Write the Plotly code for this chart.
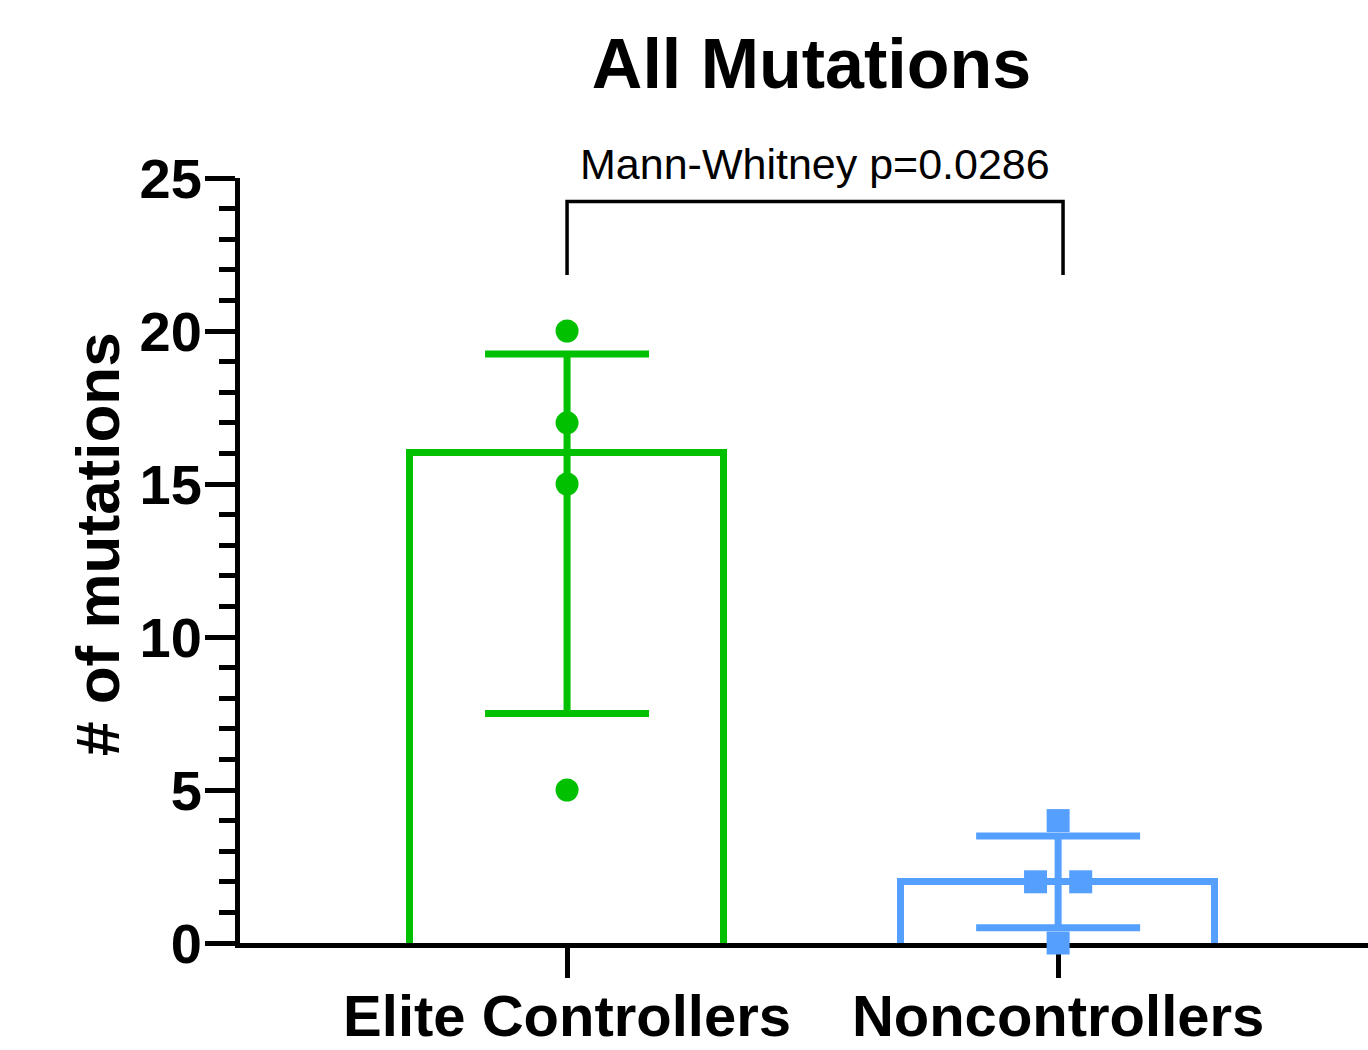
import plotly.graph_objects as go

# ---- data ----
categories = ["Elite Controllers", "Noncontrollers"]
ec_values = [20, 17, 15, 5]
nc_values = [4, 2, 2, 0]
medians = [16, 2]
q3 = [19.25, 3.5]
q1 = [7.5, 0.5]
y_ticks = [0, 5, 10, 15, 20, 25]
title_text = "All Mutations"
stat_text = "Mann-Whitney p=0.0286"
y_title = "# of mutations"

# ---- styles / positions ----
GREEN = "rgb(0,192,0)"
BLUE = "rgb(85,160,255)"
FONT = "Liberation Sans"
nc_offsets = [0, -0.046, 0.046, 0]
BASE_PAD = 0.15  # pushes the bar's bottom edge below the axis so it's hidden

fig = go.Figure()

colors = [GREEN, BLUE]
for i, cat in enumerate(categories):
    fig.add_trace(go.Bar(
        x=[i], y=[medians[i] + BASE_PAD], base=[-BASE_PAD], width=0.64,
        marker=dict(color="rgba(0,0,0,0)", line=dict(color=colors[i], width=7)),
        error_y=dict(type="data", symmetric=False,
                     array=[q3[i] - medians[i]], arrayminus=[medians[i] - q1[i]],
                     color=colors[i], thickness=7, width=82),
        showlegend=False, hoverinfo="skip",
    ))

fig.add_trace(go.Scatter(
    x=[0] * len(ec_values), y=ec_values, mode="markers",
    marker=dict(symbol="circle", size=23, color=GREEN),
    showlegend=False, cliponaxis=False,
))
fig.add_trace(go.Scatter(
    x=[1 + o for o in nc_offsets], y=nc_values, mode="markers",
    marker=dict(symbol="square", size=23, color=BLUE),
    showlegend=False, cliponaxis=False,
))

# significance bracket
fig.add_shape(type="path", xref="x", yref="y",
              path="M 0,21.83 L 0,24.23 L 1.01,24.23 L 1.01,21.83",
              line=dict(color="black", width=3.5))
fig.add_annotation(x=0.505, y=24.23, xref="x", yref="y", text=stat_text,
                   showarrow=False, yanchor="bottom", yshift=12,
                   font=dict(family=FONT, size=43, color="black"))

# y-axis title
fig.add_annotation(x=-0.1259, y=0.5216, xref="paper", yref="paper", text=y_title,
                   textangle=-90, showarrow=False, xanchor="center", yanchor="middle",
                   font=dict(family=FONT, size=62, color="black", weight="bold"))

fig.update_layout(
    width=1368, height=1050,
    margin=dict(l=240, r=0, t=178, b=107, autoexpand=False),
    plot_bgcolor="white", paper_bgcolor="white",
    bargap=0,
    title=dict(text=title_text, x=0.5067, xref="paper", xanchor="center",
               y=1 - 63 / 1050, yref="container", yanchor="middle",
               font=dict(family=FONT, size=70, color="black", weight="bold")),
    font=dict(family=FONT, color="black"),
)

fig.update_xaxes(
    range=[-0.666, 1.631], tickvals=[0, 1], ticktext=categories,
    showline=True, linecolor="black", linewidth=5, automargin=False,
    ticks="outside", ticklen=30, tickwidth=5, tickcolor="black",
    ticklabelstandoff=-12,
    tickfont=dict(family=FONT, size=58, color="black", weight="bold"),
    showgrid=False, zeroline=False, layer="below traces",
)
fig.update_yaxes(
    range=[0, 25], tickvals=y_ticks,
    showline=True, linecolor="black", linewidth=5, automargin=False,
    ticks="outside", ticklen=30, tickwidth=5, tickcolor="black",
    minor=dict(dtick=1, ticks="outside", ticklen=16, tickwidth=5, tickcolor="black"),
    ticklabelstandoff=-8,
    tickfont=dict(family=FONT, size=56, color="black", weight="bold"),
    showgrid=False, zeroline=False, layer="below traces",
)

fig.write_html("out.html", config={"displayModeBar": False},
               post_script="document.body.style.margin='0';")
